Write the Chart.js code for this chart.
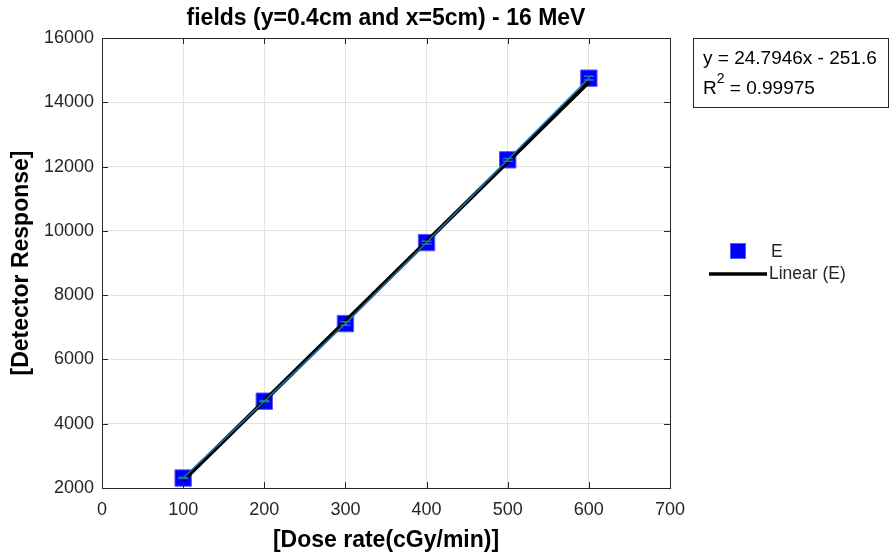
<!DOCTYPE html>
<html>
<head>
<meta charset="utf-8">
<script src="https://cdn.jsdelivr.net/npm/chart.js@4.4.1/dist/chart.umd.min.js"></script>
<style>
  body { margin: 0; background: #fff; }
  #wrap { width: 891px; height: 554px; }
</style>
</head>
<body>
<div id="wrap"><canvas id="c" width="891" height="554"></canvas></div>
<script>
// values
const doseRate = [100, 200, 300, 400, 500, 600];
const response = [2310, 4700, 7115, 9635, 12210, 14750];
const responseErr = [15, 20, 55, 40, 45, 60];
// fitted line end points (y = 24.7946x - 251.6)
const fitX = [100, 600];
const fitY = [2228, 14625];
const xTicks = [0, 100, 200, 300, 400, 500, 600, 700];
const yTicks = [2000, 4000, 6000, 8000, 10000, 12000, 14000, 16000];

const titleText = 'fields (y=0.4cm and x=5cm) - 16 MeV';
const eqLine1 = 'y = 24.7946x - 251.6';
const eqLine2 = ' = 0.99975';

const FONT = '"Liberation Sans", Arial, Helvetica, sans-serif';
const INK = '#262626';
const LINE_BLUE = '#1f74a8';

const pts = (xs, ys) => xs.map((x, i) => ({ x: x, y: ys[i] }));

// error bars, box, inward ticks, title, legend and equation box
const extras = {
  id: 'extras',
  afterDatasetsDraw(chart) {
    const ctx = chart.ctx;
    const xs = chart.scales.x, ys = chart.scales.y;
    ctx.save();
    ctx.strokeStyle = LINE_BLUE;
    ctx.lineWidth = 1.5;
    doseRate.forEach((d, i) => {
      const px = xs.getPixelForValue(d);
      const top = ys.getPixelForValue(response[i] + responseErr[i]);
      const bot = ys.getPixelForValue(response[i] - responseErr[i]);
      ctx.beginPath();
      ctx.moveTo(px, top); ctx.lineTo(px, bot);
      ctx.moveTo(px - 5, top); ctx.lineTo(px + 5, top);
      ctx.moveTo(px - 5, bot); ctx.lineTo(px + 5, bot);
      ctx.stroke();
    });
    ctx.restore();
  },
  afterDraw(chart) {
    const ctx = chart.ctx;
    const a = chart.chartArea;
    const xs = chart.scales.x, ys = chart.scales.y;
    ctx.save();
    // axes box
    ctx.strokeStyle = INK;
    ctx.lineWidth = 1;
    ctx.strokeRect(Math.round(a.left) + 0.5, Math.round(a.top) + 0.5,
      Math.round(a.right - a.left), Math.round(a.bottom - a.top));
    // inward ticks
    ctx.beginPath();
    xTicks.forEach(t => {
      const p = Math.round(xs.getPixelForValue(t)) + 0.5;
      ctx.moveTo(p, a.bottom); ctx.lineTo(p, a.bottom - 6);
      ctx.moveTo(p, a.top); ctx.lineTo(p, a.top + 6);
    });
    yTicks.forEach(t => {
      const p = Math.round(ys.getPixelForValue(t)) + 0.5;
      ctx.moveTo(a.left, p); ctx.lineTo(a.left + 6, p);
      ctx.moveTo(a.right, p); ctx.lineTo(a.right - 6, p);
    });
    ctx.stroke();

    // title
    ctx.fillStyle = '#000';
    ctx.font = 'bold 23px ' + FONT;
    ctx.textAlign = 'center';
    ctx.textBaseline = 'middle';
    ctx.fillText(titleText, (a.left + a.right) / 2, 19);

    // legend
    ctx.textAlign = 'left';
    ctx.font = '17.5px ' + FONT;
    ctx.fillStyle = '#0000ff';
    ctx.fillRect(730, 243, 16, 16);
    ctx.strokeStyle = '#5a5aff';
    ctx.strokeRect(730.5, 243.5, 15, 15);
    ctx.fillStyle = INK;
    ctx.fillText('E', 771, 252);
    ctx.strokeStyle = '#000';
    ctx.lineWidth = 3.5;
    ctx.beginPath();
    ctx.moveTo(709, 274); ctx.lineTo(767, 274);
    ctx.stroke();
    ctx.fillText('Linear (E)', 769, 274);

    // equation box
    ctx.lineWidth = 1;
    ctx.strokeStyle = INK;
    ctx.strokeRect(693.5, 38.5, 195, 69);
    ctx.fillStyle = '#000';
    ctx.font = '19px ' + FONT;
    ctx.textBaseline = 'alphabetic';
    ctx.fillText(eqLine1, 703, 64);
    ctx.fillText('R', 703, 94);
    const rw = ctx.measureText('R').width;
    ctx.font = '14px ' + FONT;
    ctx.fillText('2', 703 + rw, 83);
    const sw = ctx.measureText('2').width;
    ctx.font = '19px ' + FONT;
    ctx.fillText(eqLine2, 703 + rw + sw, 94);
    ctx.restore();
  }
};

new Chart(document.getElementById('c').getContext('2d'), {
  type: 'scatter',
  data: {
    datasets: [
      {
        label: 'E',
        data: pts(doseRate, response),
        showLine: false,
        pointStyle: 'rect',
        pointRadius: 11.6,
        pointHoverRadius: 11.6,
        backgroundColor: '#0000ff',
        borderColor: '#5a5aff',
        borderWidth: 1,
        order: 3
      },
      {
        label: 'Linear (E)',
        data: pts(fitX, fitY),
        showLine: true,
        borderColor: '#000',
        borderWidth: 4,
        pointRadius: 0,
        order: 2
      },
      {
        label: 'E line',
        data: pts(doseRate, response),
        showLine: true,
        borderColor: LINE_BLUE,
        borderWidth: 1.5,
        pointRadius: 0,
        order: 1
      }
    ]
  },
  options: {
    responsive: false,
    animation: false,
    layout: { padding: { top: 38, right: 221, left: 0, bottom: 0 } },
    plugins: {
      legend: { display: false },
      title: { display: false },
      tooltip: { enabled: false }
    },
    scales: {
      x: {
        type: 'linear',
        min: 0, max: 700,
        afterFit: s => { s.height = 66; },
        afterBuildTicks: s => { s.ticks = xTicks.map(v => ({ value: v })); },
        grid: { color: '#e3e3e3', drawTicks: false },
        border: { display: false },
        ticks: {
          padding: 11,
          color: INK,
          font: { family: FONT, size: 18 },
          callback: v => String(v)
        },
        title: {
          display: true,
          text: '[Dose rate(cGy/min)]',
          color: '#000',
          font: { family: FONT, size: 23, weight: 'bold' },
          padding: { top: 1, bottom: 0 }
        }
      },
      y: {
        type: 'linear',
        min: 2000, max: 16000,
        afterFit: s => { s.width = 102; },
        afterBuildTicks: s => { s.ticks = yTicks.map(v => ({ value: v })); },
        grid: { color: '#e3e3e3', drawTicks: false },
        border: { display: false },
        ticks: {
          padding: 8,
          color: INK,
          font: { family: FONT, size: 18 },
          callback: v => String(v)
        },
        title: {
          display: true,
          text: '[Detector Response]',
          color: '#000',
          font: { family: FONT, size: 23, weight: 'bold' },
          padding: { top: 8, bottom: 0 }
        }
      }
    }
  },
  plugins: [extras]
});
</script>
</body>
</html>
